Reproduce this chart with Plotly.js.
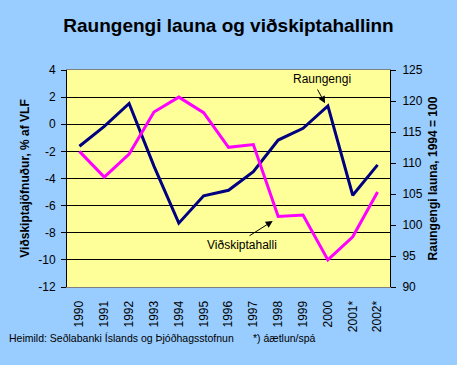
<!DOCTYPE html>
<html><head><meta charset="utf-8">
<script src="https://cdn.plot.ly/plotly-3.0.1.min.js"></script>
<style>html,body{margin:0;padding:0;background:#99CCFF;}#chart{width:457px;height:365px;}</style>
</head><body><div id="chart"></div>
<script>
var years = ['1990','1991','1992','1993','1994','1995','1996','1997','1998','1999','2000','2001*','2002*'];
var raungengi = [112.7, 115.9, 119.6, 109.5, 100.3, 104.7, 105.6, 108.6, 113.7, 115.6, 119.2, 104.8, 109.7];
var vidskiptahalli = [-2.0, -3.9, -2.2, 0.9, 2.0, 0.85, -1.7, -1.5, -6.8, -6.7, -10.0, -8.3, -5.0];
var leftTickVals = [4, 2, 0, -2, -4, -6, -8, -10, -12];
var leftTickText = ['4', '2', '0', '-2', '-4', '-6', '-8', '-10', '-12'];
var rightTickVals = [90, 95, 100, 105, 110, 115, 120, 125];

var font = 'Liberation Sans, Arial, sans-serif';
var traces = [
  {x: years, y: raungengi, xaxis: 'x', yaxis: 'y', type: 'scatter', mode: 'lines',
   line: {color: '#000080', width: 3}, name: 'Raungengi', hoverinfo: 'skip'},
  {x: years, y: vidskiptahalli, xaxis: 'x', yaxis: 'y2', type: 'scatter', mode: 'lines',
   line: {color: '#FF00FF', width: 3}, name: 'Viðskiptahalli', hoverinfo: 'skip'}
];
var layout = {
  width: 457, height: 365,
  paper_bgcolor: '#99CCFF', plot_bgcolor: '#FFFF99',
  margin: {l: 67, r: 67, t: 70, b: 78, pad: 0},
  showlegend: false,
  font: {family: font, size: 12, color: '#000'},
  title: {text: '<b>Raungengi launa og viðskiptahallinn</b>', font: {size: 19, family: font, color: '#000'},
          x: 0.5, xref: 'paper', y: 1 - 25/365, yref: 'container', yanchor: 'middle'},
  xaxis: {type: 'category', categoryorder: 'array', categoryarray: years, range: [-0.5, 12.5],
          tickangle: -90, ticks: '', showgrid: false, zeroline: false,
          showline: true, linecolor: '#808080', linewidth: 1, mirror: true,
          tickfont: {size: 12}, ticklabelstandoff: 8, fixedrange: true},
  xaxis2: {type: 'category', categoryorder: 'array', categoryarray: years, range: [-0.5, 12.5],
           overlaying: 'x', anchor: 'free', position: 0.75 + 3/217, side: 'bottom',
           showticklabels: false, ticks: 'outside', tickson: 'boundaries', ticklen: 6,
           tickcolor: '#000', tickwidth: 1, showgrid: false, zeroline: false, showline: false},
  yaxis: {range: [90, 125], tickmode: 'array', tickvals: rightTickVals, side: 'right',
          showgrid: false, zeroline: false, showline: true, linecolor: '#000', linewidth: 1,
          ticks: 'outside', ticklen: 5, tickcolor: '#000', tickfont: {size: 12}, ticklabelstandoff: 4,
          title: {text: '<b>Raungengi launa, 1994 = 100</b>', font: {size: 12}, standoff: 6}},
  yaxis2: {range: [-12, 4], tickmode: 'array', tickvals: leftTickVals, ticktext: leftTickText,
           overlaying: 'y', side: 'left',
           showgrid: true, gridcolor: '#000', gridwidth: 1, zeroline: true, zerolinecolor: '#000', zerolinewidth: 1,
           showline: true, linecolor: '#000', linewidth: 1, ticks: 'outside', ticklen: 5, tickcolor: '#000',
           tickfont: {size: 12}, ticklabelstandoff: 3,
           title: {text: '<b>Viðskiptajöfnuður, % af VLF</b>', font: {size: 12}, standoff: 6}},
  annotations: [
    {text: 'Raungengi', xref: 'paper', yref: 'paper', x: 0.7895, y: 0.9585, showarrow: false,
     xanchor: 'center', yanchor: 'middle', font: {size: 12}},
    {text: '', xref: 'paper', yref: 'paper', x: 0.7988, y: 0.8465, ax: -8.3, ay: -15.3,
     showarrow: true, arrowhead: 2, arrowsize: 1.4, arrowwidth: 1, arrowcolor: '#000'},
    {text: 'Viðskiptahalli', xref: 'paper', yref: 'paper', x: 0.5418, y: 0.1935, showarrow: false,
     xanchor: 'center', yanchor: 'middle', font: {size: 12}},
    {text: '', xref: 'paper', yref: 'paper', x: 0.6368, y: 0.3041, ax: -24.7, ay: 15.7,
     showarrow: true, arrowhead: 2, arrowsize: 1.4, arrowwidth: 1, arrowcolor: '#000'},
    {text: 'Heimild: Seðlabanki Íslands og Þjóðhagsstofnun', xref: 'paper', yref: 'paper',
     x: (7-67)/323, y: (287-338)/217, xanchor: 'left', yanchor: 'middle', showarrow: false, font: {size: 10.5}},
    {text: '*) áætlun/spá', xref: 'paper', yref: 'paper',
     x: (250.7-67)/323, y: (287-338)/217, xanchor: 'left', yanchor: 'middle', showarrow: false, font: {size: 10.5}}
  ]
};
Plotly.newPlot('chart', traces, layout, {displayModeBar: false, staticPlot: true});
</script></body></html>
